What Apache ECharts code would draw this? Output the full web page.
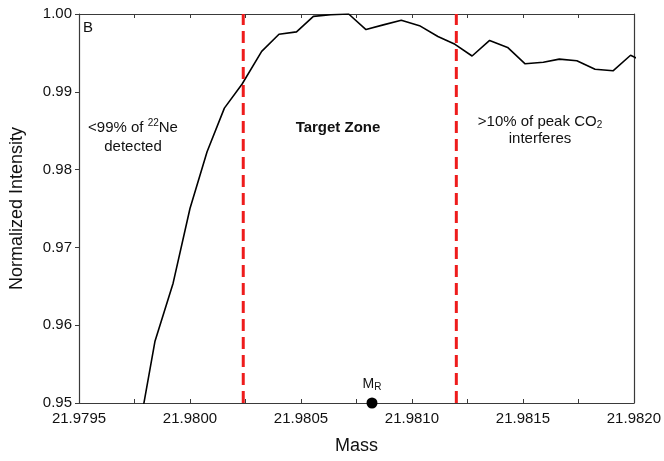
<!DOCTYPE html>
<html>
<head>
<meta charset="utf-8">
<script src="https://cdn.jsdelivr.net/npm/echarts@6/dist/echarts.min.js"></script>
<style>
  html, body { margin: 0; padding: 0; background: #fff; }
  #chart { width: 664px; height: 461px; }
</style>
</head>
<body>
<div id="chart"></div>
<script>
// mass values (x) and normalized intensity (y)
var massData = [
  21.979760, 21.979842, 21.979924, 21.980000, 21.980077, 21.980155,
  21.980235, 21.980323, 21.980401, 21.980480, 21.980556, 21.980634,
  21.980715, 21.980793, 21.980871, 21.980952, 21.981034, 21.981117,
  21.981194, 21.981271, 21.981350, 21.981431, 21.981510, 21.981592,
  21.981664, 21.981743, 21.981825, 21.981906, 21.981985, 21.982065
]
var intensityData = [
  0.9448, 0.9579, 0.9654, 0.9750, 0.9823, 0.9879,
  0.9910, 0.9952, 0.9974, 0.9977, 0.9997, 0.9999,
  1.0000, 0.9980, 0.9986, 0.9992, 0.9985, 0.9971,
  0.9961, 0.9946, 0.9966, 0.9957, 0.9936, 0.9938,
  0.9942, 0.9940, 0.9929, 0.9927, 0.9947, 0.9936
]
// target zone limits (red dashed lines)
var zoneLimits = [21.98024, 21.98120]
// reference mass M_R
var refMass = [21.98082]
var refIntensity = [0.95]

var Y_MIN = 0.95
var Y_MAX = 1.0

var seriesData = massData.map(function (m, i) { return [m, intensityData[i]] })

var FONT = 'Liberation Sans, Arial, sans-serif'
var AXIS_COLOR = '#3a3a3a'

// one dashed vertical series per zone limit
var limitSeries = zoneLimits.map(function (x) {
  return {
    type: 'line',
    data: [[x, Y_MIN], [x, Y_MAX]],
    showSymbol: false,
    silent: true,
    lineStyle: { color: '#ee1c1c', width: 3, type: [12, 6] },
    z: 3
  }
})

var chart = echarts.init(document.getElementById('chart'))
chart.setOption({
  animation: false,
  backgroundColor: '#fff',
  grid: {
    left: 77,
    right: 29,
    top: 14,
    bottom: 58
  },
  xAxis: [{
    type: 'value',
    min: 21.9795,
    max: 21.982,
    interval: 0.0005,
    name: 'Mass',
    nameLocation: 'middle',
    nameGap: 34,
    nameTextStyle: { fontFamily: FONT, fontSize: 18, color: '#111' },
    axisLine: { lineStyle: { color: AXIS_COLOR, width: 1.2 } },
    axisTick: { inside: true, length: 4, lineStyle: { color: AXIS_COLOR } },
    minorTick: { show: true, splitNumber: 2, length: 4, lineStyle: { color: AXIS_COLOR } },
    axisLabel: {
      fontFamily: FONT, fontSize: 15, color: '#111', margin: 8,
      formatter: function (v) { return v.toFixed(4) }
    },
    splitLine: { show: false }
  }, {
    type: 'value',
    position: 'top',
    min: 21.9795,
    max: 21.982,
    interval: 0.0005,
    axisLine: { lineStyle: { color: AXIS_COLOR, width: 1.2 } },
    axisTick: { inside: true, length: 4, lineStyle: { color: AXIS_COLOR } },
    minorTick: { show: true, splitNumber: 2, length: 4, lineStyle: { color: AXIS_COLOR } },
    axisLabel: { show: false },
    splitLine: { show: false }
  }],
  yAxis: [{
    type: 'value',
    min: Y_MIN,
    max: Y_MAX,
    interval: 0.01,
    name: 'Normalized Intensity',
    nameLocation: 'middle',
    nameGap: 53,
    nameTextStyle: { fontFamily: FONT, fontSize: 18, color: '#111' },
    axisLine: { show: true, lineStyle: { color: AXIS_COLOR, width: 1.2 } },
    axisTick: { show: true, inside: false, length: 4, lineStyle: { color: AXIS_COLOR } },
    axisLabel: {
      fontFamily: FONT, fontSize: 15, color: '#111', margin: 7,
      formatter: function (v) { return v.toFixed(2) }
    },
    splitLine: { show: false }
  }, {
    type: 'value',
    position: 'right',
    min: Y_MIN,
    max: Y_MAX,
    axisLine: { show: true, lineStyle: { color: AXIS_COLOR, width: 1.2 } },
    axisTick: { show: false },
    axisLabel: { show: false },
    splitLine: { show: false }
  }],
  series: [{
    type: 'line',
    data: seriesData,
    showSymbol: false,
    clip: true,
    lineStyle: { color: '#000', width: 1.6 },
    z: 2
  }].concat(limitSeries).concat([{
    type: 'scatter',
    data: refMass.map(function (m, i) { return [m, refIntensity[i]] }),
    symbolSize: 11,
    clip: false,
    itemStyle: { color: '#000', opacity: 1 },
    z: 5,
    label: {
      show: true,
      position: 'top',
      distance: 5,
      formatter: 'M{sub|R}',
      fontFamily: FONT,
      fontSize: 14,
      color: '#111',
      rich: {
        sub: { fontFamily: FONT, fontSize: 10, color: '#111', verticalAlign: 'bottom', padding: [6, 0, 0, 0] }
      }
    }
  }]),
  graphic: [{
    type: 'text',
    left: 83,
    top: 20,
    style: { text: 'B', font: '15px ' + FONT, fill: '#111' }
  }, {
    type: 'text',
    x: 133,
    y: 137,
    style: {
      text: '<99% of {sup|22}Ne\ndetected',
      font: '15px ' + FONT,
      fill: '#111',
      align: 'center',
      verticalAlign: 'middle',
      lineHeight: 19,
      rich: {
        sup: { font: '10px ' + FONT, fill: '#111', verticalAlign: 'top', padding: [0, 0, 7, 0] }
      }
    }
  }, {
    type: 'text',
    x: 338,
    y: 128,
    style: {
      text: 'Target Zone',
      font: 'bold 15px ' + FONT,
      fill: '#111',
      align: 'center',
      verticalAlign: 'middle'
    }
  }, {
    type: 'text',
    x: 540,
    y: 130,
    style: {
      text: '>10% of peak CO{sub|2}\ninterferes',
      font: '15px ' + FONT,
      fill: '#111',
      align: 'center',
      verticalAlign: 'middle',
      lineHeight: 17,
      rich: {
        sub: { font: '10px ' + FONT, fill: '#111', verticalAlign: 'bottom', padding: [6, 0, 0, 0] }
      }
    }
  }]
})
</script>
</body>
</html>
